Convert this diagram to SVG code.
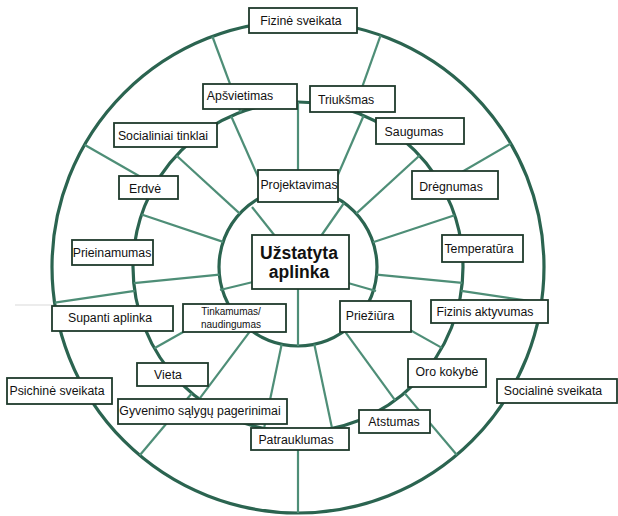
<svg xmlns="http://www.w3.org/2000/svg" width="618" height="516" viewBox="0 0 618 516">
<style>
.ring{fill:none;stroke:#2b6450;stroke-width:3.2}
.sp{stroke:#4e8e77;stroke-width:2.2;fill:none}
.box{fill:#fff;stroke:#1f3a2c;stroke-width:1.8}
.t{font-family:"Liberation Sans",Arial,sans-serif;font-size:12.3px;fill:#111;text-anchor:middle}
.s{font-size:10px}
.b{font-weight:bold;font-size:17.5px}
</style>
<rect width="618" height="516" fill="#fff"/>
<g id="rings">
<circle class="ring" cx="298" cy="267" r="246"/>
<circle class="ring" cx="298" cy="267" r="165"/>
<circle class="ring" cx="298" cy="267" r="79"/>
</g>
<g id="connectors">
<line x1="15" y1="305" x2="53" y2="305" stroke="#d9d9d9" stroke-width="1.2"/>
<g class="sp">
<!-- inner ring spokes -->
<line x1="298" y1="102" x2="298" y2="188"/>
<line x1="231.2" y1="116.2" x2="266" y2="194.8"/>
<line x1="363.6" y1="115.7" x2="329.4" y2="194.5"/>
<line x1="176.4" y1="155.5" x2="239.8" y2="213.6"/>
<line x1="419.6" y1="155.5" x2="356.2" y2="213.6"/>
<line x1="141.6" y1="214.5" x2="223.1" y2="241.9"/>
<line x1="454.6" y1="215.2" x2="373" y2="242.2"/>
<line x1="133.8" y1="283.2" x2="219.4" y2="274.7"/>
<line x1="462.2" y1="282.9" x2="376.6" y2="274.6"/>
<line x1="154.4" y1="348.3" x2="229.3" y2="306"/>
<line x1="441.9" y1="347.9" x2="366.9" y2="305.7"/>
<line x1="199.2" y1="399.2" x2="250.7" y2="330.3"/>
<line x1="395.2" y1="400.3" x2="344.5" y2="330.8"/>
<line x1="264" y1="428.5" x2="281.7" y2="344.3"/>
<line x1="332.1" y1="428.4" x2="314.3" y2="344.3"/>
<!-- outer ring spokes -->
<line x1="240.6" y1="112.4" x2="212.4" y2="36.5"/>
<line x1="353.4" y1="111.6" x2="380.6" y2="35.3"/>
<line x1="154.8" y1="185" x2="84.5" y2="144.7"/>
<line x1="440.7" y1="184.2" x2="510.8" y2="143.5"/>
<line x1="134.8" y1="290.9" x2="54.7" y2="302.7"/>
<line x1="461.2" y1="290.9" x2="541.3" y2="302.7"/>
<line x1="191.9" y1="393.3" x2="139.8" y2="455.2"/>
<line x1="404.6" y1="393.1" x2="456.9" y2="455"/>
<line x1="298" y1="432" x2="298" y2="513"/>
<!-- centre links -->
<line x1="252" y1="207" x2="275" y2="236"/>
<line x1="344" y1="203" x2="321" y2="236"/>
<line x1="220" y1="290" x2="253" y2="282"/>
<line x1="376" y1="291" x2="348" y2="283"/>
<line x1="298" y1="289" x2="298" y2="346"/>
</g>
</g>
<g id="n-fizine"><rect class="box" x="249" y="8" width="108" height="25"/><text class="t" x="301" y="25">Fizinė sveikata</text></g>
<g id="n-apsvietimas"><rect class="box" x="203" y="84" width="94" height="25"/><text class="t" x="240" y="100">Apšvietimas</text></g>
<g id="n-triuksmas"><rect class="box" x="310" y="86" width="85" height="26"/><text class="t" x="346" y="104">Triukšmas</text></g>
<g id="n-saugumas"><rect class="box" x="376" y="118" width="88" height="26"/><text class="t" x="414" y="136">Saugumas</text></g>
<g id="n-socialiniai"><rect class="box" x="114" y="123" width="103" height="24"/><text class="t" x="163" y="140">Socialiniai tinklai</text></g>
<g id="n-projektavimas"><rect class="box" x="258" y="170" width="80" height="32"/><text class="t" x="299" y="189">Projektavimas</text></g>
<g id="n-dregnumas"><rect class="box" x="412" y="171" width="86" height="28"/><text class="t" x="451" y="191">Drėgnumas</text></g>
<g id="n-erdve"><rect class="box" x="119" y="176" width="59" height="23"/><text class="t" x="145" y="193">Erdvė</text></g>
<g id="n-prieinamumas"><rect class="box" x="72" y="240" width="81" height="25"/><text class="t" x="112" y="257">Prieinamumas</text></g>
<g id="n-uzstatyta"><rect class="box" x="252" y="235" width="97" height="54"/><text class="t b" x="299" y="259">Užstatyta</text><text class="t b" x="299" y="278">aplinka</text></g>
<g id="n-temperatura"><rect class="box" x="442" y="235" width="81" height="27"/><text class="t" x="479" y="253">Temperatūra</text></g>
<g id="n-supanti"><rect class="box" x="52" y="306" width="121" height="25"/><text class="t" x="110" y="322">Supanti aplinka</text></g>
<g id="n-tinkamumas"><rect class="box" x="183" y="304" width="103" height="28"/><text class="t s" x="231" y="315">Tinkamumas/</text><text class="t s" x="231" y="328">naudingumas</text></g>
<g id="n-priezuira"><rect class="box" x="340" y="301" width="71" height="31"/><text class="t" x="370" y="320">Priežiūra</text></g>
<g id="n-fizinis"><rect class="box" x="431" y="300" width="117" height="23"/><text class="t" x="485" y="316">Fizinis aktyvumas</text></g>
<g id="n-vieta"><rect class="box" x="137" y="363" width="71" height="23"/><text class="t" x="168" y="379">Vieta</text></g>
<g id="n-oro"><rect class="box" x="408" y="359" width="78" height="28"/><text class="t" x="447" y="376">Oro kokybė</text></g>
<g id="n-psichine"><rect class="box" x="7" y="378" width="105" height="26"/><text class="t" x="57" y="395">Psichinė sveikata</text></g>
<g id="n-socialine"><rect class="box" x="497" y="379" width="120" height="24"/><text class="t" x="553" y="395">Socialinė sveikata</text></g>
<g id="n-gyvenimo"><rect class="box" x="118" y="399" width="169" height="25"/><text class="t" x="200" y="415">Gyvenimo sąlygų pagerinimai</text></g>
<g id="n-atstumas"><rect class="box" x="359" y="410" width="71" height="23"/><text class="t" x="394" y="426">Atstumas</text></g>
<g id="n-patrauklumas"><rect class="box" x="251" y="428" width="98" height="22"/><text class="t" x="296" y="444">Patrauklumas</text></g>
</svg>
